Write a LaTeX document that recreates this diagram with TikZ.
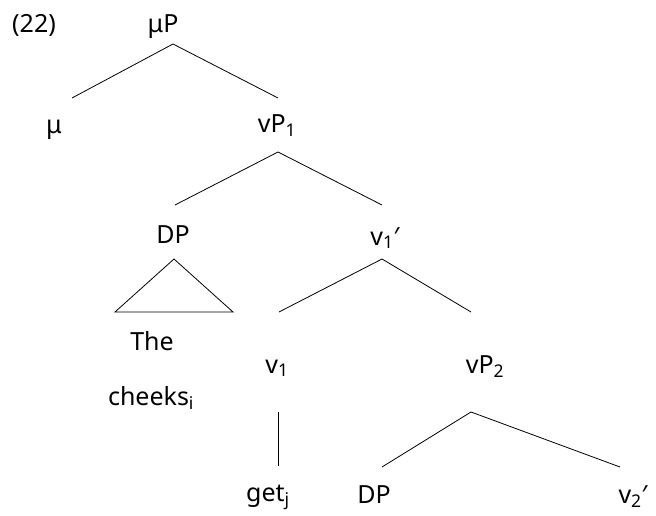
\documentclass[tikz,border=0pt]{standalone}
\usepackage{fontspec}
\setmainfont{Noto Sans}
\usepackage{tikz}

\begin{document}
\begin{tikzpicture}[x=1pt,y=-1pt,
  cat/.style={anchor=base,inner sep=0pt,font=\fontsize{25}{30}\selectfont},
  branch/.style={line width=0.8pt}]
\useasboundingbox (0,0) rectangle (656,516);
\node [cat,anchor=base west] (num) at (12,33) {(22)};
% labels of the tree
\node [cat] (muP) at (163,33) {μP};
\node [cat] (mu) at (54,134) {μ};
\node [cat] (vPa) at (277,133) {vP\textsubscript{1}};
\node [cat] (DPa) at (173,243) {DP};
\node [cat] (vbara) at (385,245) {v\textsubscript{1}′};
\node [cat] (the) at (152,350) {The};
\node [cat] (cheeks) at (151,405) {cheeks\textsubscript{i}};
\node [cat] (va) at (277,373) {v\textsubscript{1}};
\node [cat] (vPb) at (485,373) {vP\textsubscript{2}};
\node [cat] (get) at (268,501) {get\textsubscript{j}};
\node [cat] (DPb) at (374,503) {DP};
\node [cat] (vbarb) at (633,503) {v\textsubscript{2}′};
% branches
\draw [branch] ([xshift=18pt,yshift=36pt]mu.base) -- ([xshift=10pt,yshift=-11pt]muP.base)
  -- ([xshift=1pt,yshift=35pt]vPa.base);
\draw [branch] ([xshift=2pt,yshift=38pt]DPa.base) -- ([xshift=1pt,yshift=-19pt]vPa.base)
  -- ([xshift=-3pt,yshift=40pt]vbara.base);
\draw [branch] ([xshift=-37pt,yshift=38pt]the.base) -- ([xshift=1pt,yshift=-16pt]DPa.base)
  -- ([xshift=81pt,yshift=38pt]the.base) -- cycle;
\draw [branch] ([xshift=2pt,yshift=61pt]va.base) -- ([xshift=-3pt,yshift=-14pt]vbara.base)
  -- ([xshift=-14pt,yshift=61pt]vPb.base);
\draw [branch] ([xshift=1pt,yshift=-39pt]va.base) -- ([xshift=10pt,yshift=35pt]get.base);
\draw [branch] ([xshift=8pt,yshift=36pt]DPb.base) -- ([xshift=-14pt,yshift=-39pt]vPb.base)
  -- ([xshift=-13pt,yshift=36pt]vbarb.base);
\end{tikzpicture}
\end{document}
